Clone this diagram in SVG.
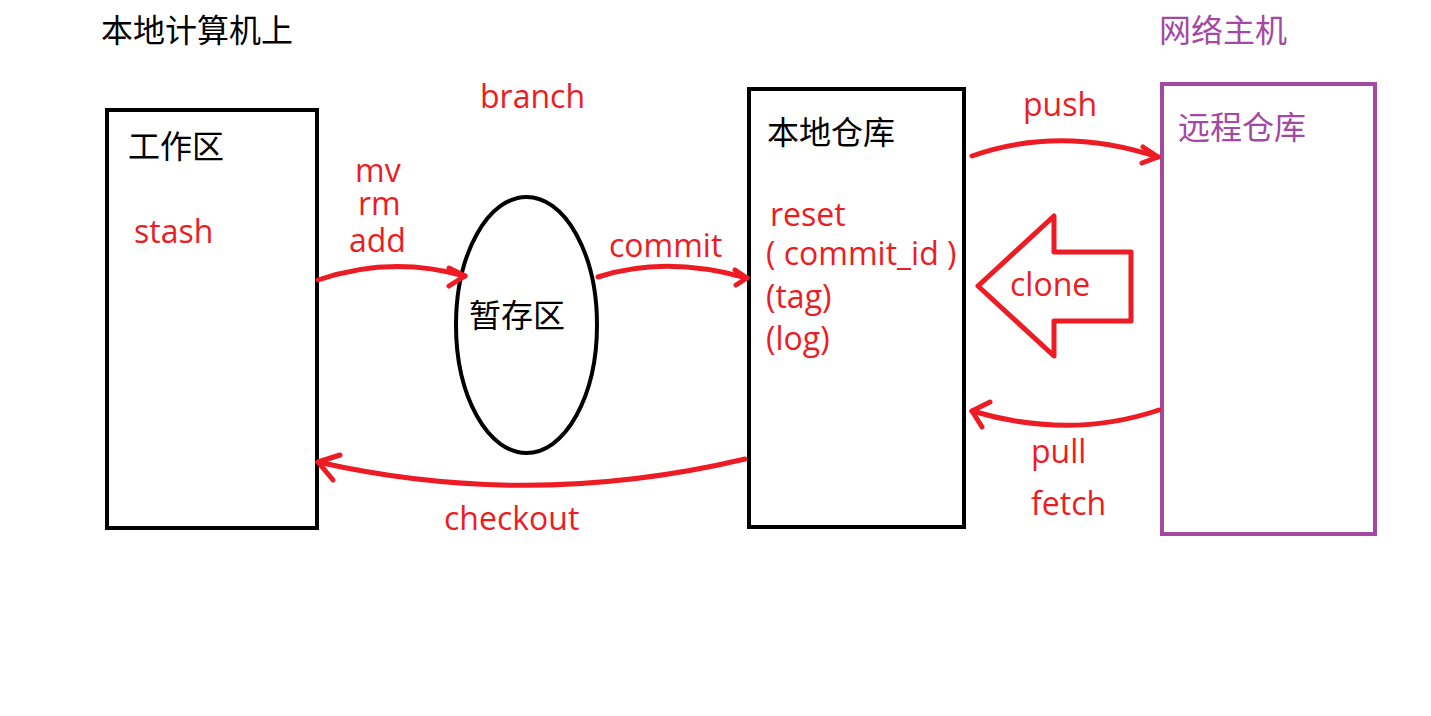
<svg xmlns="http://www.w3.org/2000/svg" width="1431" height="716" viewBox="0 0 1431 716">
<style>
.box{fill:none;stroke:#000;stroke-width:4}
.pbox{fill:none;stroke:#A349A4;stroke-width:4}
.arr{fill:none;stroke:#ED1C24;stroke-width:5;stroke-linecap:round;stroke-linejoin:round}
.t{font-family:"Open Sans","Noto Sans CJK SC",sans-serif;font-size:32px}
.cn{font-family:"Noto Sans CJK SC","Microsoft YaHei",sans-serif;font-size:32px}
.r{fill:#ED1C24}
.k{fill:#000}
.p{fill:#A349A4}
</style>
<rect width="1431" height="716" fill="#fff"/>
<text class="cn k" x="101" y="42">本地计算机上</text>
<text class="cn p" x="1159" y="42">网络主机</text>
<text class="t r" x="480" y="108">branch</text>
<g id="workspace">
<rect class="box" x="107" y="110" width="210" height="418"/>
<text class="cn k" x="128" y="158">工作区</text>
<text class="t r" x="134" y="243">stash</text>
</g>
<g id="stage">
<ellipse class="box" cx="526.5" cy="325" rx="70.5" ry="128"/>
<text class="cn k" x="469" y="327">暂存区</text>
</g>
<g id="local-repo">
<rect class="box" x="749" y="89" width="215" height="438"/>
<text class="cn k" x="767" y="144">本地仓库</text>
<text class="t r" x="770" y="226">reset</text>
<text class="t r" x="766" y="265">( commit_id )</text>
<text class="t r" x="766" y="308">(tag)</text>
<text class="t r" x="766" y="350">(log)</text>
</g>
<g id="remote-repo">
<rect class="pbox" x="1162" y="84" width="213" height="450"/>
<text class="cn p" x="1178" y="139">远程仓库</text>
</g>
<g id="connectors">
<path class="arr" d="M318 280 Q390 255 465 276"/>
<path class="arr" d="M449 268 L465 276 L449 286"/>
<text class="t r" x="355" y="182">mv</text>
<text class="t r" x="358" y="215">rm</text>
<text class="t r" x="349" y="252">add</text>
<path class="arr" d="M598 277 Q665 255 747 278"/>
<path class="arr" d="M735 270 L747 278 L736 285"/>
<text class="t r" x="609" y="257">commit</text>
<path class="arr" d="M972 156 Q1060 125 1158 157"/>
<path class="arr" d="M1143 147 L1158 157 L1142 163"/>
<text class="t r" x="1023" y="116">push</text>
<path class="arr" d="M1159 410 Q1070 440 972 411"/>
<path class="arr" d="M990 402 L972 411 L982 427"/>
<text class="t r" x="1031" y="463">pull</text>
<text class="t r" x="1031" y="515">fetch</text>
<path class="arr" d="M745 459 Q530 510 318 462"/>
<path class="arr" d="M340 455 L318 462 L333 480"/>
<text class="t r" x="444" y="530">checkout</text>
<polygon class="arr" points="978,286 1054,216 1054,252 1131,252 1131,321 1054,321 1054,356"/>
<text class="t r" x="1010" y="296">clone</text>
</g>
</svg>
